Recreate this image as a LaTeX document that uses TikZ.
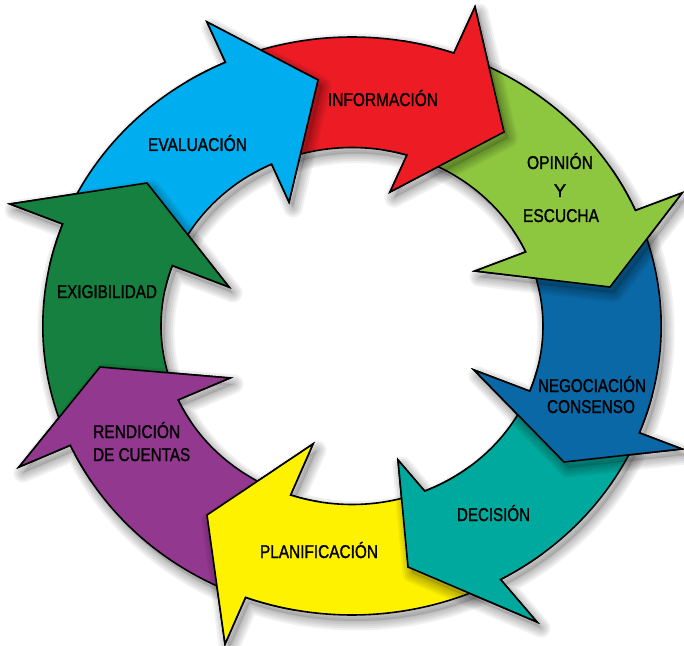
\documentclass[tikz,border=0pt]{standalone}
\usepackage{fontspec}
\setmainfont{Liberation Sans}
\newfontfamily\lblfont[FakeBold=1.4]{Liberation Sans}
\usepackage{graphicx}
\definecolor{cRed}{HTML}{ED1C24}
\definecolor{cBlue}{HTML}{00AEEF}
\definecolor{cLGreen}{HTML}{8DC63F}
\definecolor{cDBlue}{HTML}{0A68A6}
\definecolor{cTeal}{HTML}{00A99D}
\definecolor{cYellow}{HTML}{FFF200}
\definecolor{cPurple}{HTML}{92388F}
\definecolor{cDGreen}{HTML}{15803F}
% arrow outlines (centre of ring at origin, outer ellipse 309.2 x 289, inner 191 x 178.5)
\def\pRed{(111.2:309.2 and 289) arc[start angle=111.2, end angle=70.77, x radius=309.2, y radius=289] -- (123,319) -- (152,194) -- (38,134) -- (73.27:191 and 178.5) arc[start angle=73.27, end angle=111.9, x radius=191, y radius=178.5] -- cycle}
\def\pLGreen{(67.8:309.2 and 289) arc[start angle=67.8, end angle=23.56, x radius=309.2, y radius=289] -- (330,133) -- (258,39) -- (123,55) -- (24.53:191 and 178.5) arc[start angle=24.53, end angle=70.3, x radius=191, y radius=178.5] -- cycle}
\def\pDBlue{(20.6:309.2 and 289) arc[start angle=20.6, end angle=-21.69, x radius=309.2, y radius=289] -- (330,-123) -- (212,-136) -- (122,-44) -- (-21.42:191 and 178.5) arc[start angle=-21.42, end angle=21.5, x radius=191, y radius=178.5] -- cycle}
\def\pTeal{(-24.7:309.2 and 289) arc[start angle=-24.7, end angle=-61.29, x radius=309.2, y radius=289] -- (185,-296) -- (56,-241) -- (46,-134) -- (-67.64:191 and 178.5) arc[start angle=-67.64, end angle=-24.4, x radius=191, y radius=178.5] -- cycle}
\def\pYellow{(-64.3:309.2 and 289) arc[start angle=-64.3, end angle=-110.14, x radius=309.2, y radius=289] -- (-127,-318) -- (-145,-189) -- (-39,-118) -- (-108.76:191 and 178.5) arc[start angle=-108.76, end angle=-70.6, x radius=191, y radius=178.5] -- cycle}
\def\pPurple{(-113.1:309.2 and 289) arc[start angle=-113.1, end angle=-155.62, x radius=309.2, y radius=289] -- (-333,-141) -- (-252,-41) -- (-122,-52) -- (-155.55:191 and 178.5) arc[start angle=-155.55, end angle=-111.8, x radius=191, y radius=178.5] -- cycle}
\def\pDGreen{(201.4:309.2 and 289) arc[start angle=201.4, end angle=159.33, x radius=309.2, y radius=289] -- (-342,122) -- (-205,143) -- (-123,39) -- (160.2:191 and 178.5) arc[start angle=160.2, end angle=201.45, x radius=191, y radius=178.5] -- cycle}
\def\pBlue{(156.3:309.2 and 289) arc[start angle=156.3, end angle=114.16, x radius=309.2, y radius=289] -- (-145,304) -- (-34,246) -- (-63,124) -- (114.89:191 and 178.5) arc[start angle=114.89, end angle=157.2, x radius=191, y radius=178.5] -- cycle}
% wedges round each arrow head
\def\wRed{(0,0) -- (35:700) -- (58:700) -- (80:700) -- cycle}
\def\wLGreen{(0,0) -- (-8:700) -- (12:700) -- (31:700) -- cycle}
\def\wDBlue{(0,0) -- (-49:700) -- (-30:700) -- (-13:700) -- cycle}
\def\wTeal{(0,0) -- (-93:700) -- (-72:700) -- (-50:700) -- cycle}
\def\wYellow{(0,0) -- (-143:700) -- (-122:700) -- (-101:700) -- cycle}
\def\wPurple{(0,0) -- (-186:700) -- (-168:700) -- (-149:700) -- cycle}
\def\wDGreen{(0,0) -- (129:700) -- (149:700) -- (169:700) -- cycle}
\def\wBlue{(0,0) -- (82:700) -- (103:700) -- (124:700) -- cycle}
\newcommand\myshade[1]{%
  \begin{scope}[shift={(4,-6)}]
    \path[fill=black, fill opacity=0.12] #1;
    \foreach \w in {3,7,11,15,19} {\path[draw=black, draw opacity=0.055, line width=\w pt, line join=round] #1;}
  \end{scope}}
\newcommand\myarrow[2]{\path[arrowline, fill=#2] #1;}
\newcommand\headover[4]{% #1 path of earlier arrow, #2 its colour, #3 its wedge, #4 path of later arrow
  \begin{scope}\clip #4; \myshade{#1}\end{scope}
  \begin{scope}\clip #3; \myarrow{#1}{#2}\end{scope}}
\begin{document}
\begin{tikzpicture}[x=1pt, y=1pt,
  arrowline/.style={draw=black, line width=1.6pt, line join=miter, miter limit=25},
  lbl/.style={inner sep=0pt, font=\lblfont\fontsize{18.5}{20}\selectfont, text=black}]
\useasboundingbox (-352,-319) rectangle (332,326);
\fill[white] (-352,-319) rectangle (332,326);
% shadows on the paper
\myshade{\pRed}\myshade{\pLGreen}\myshade{\pDBlue}\myshade{\pTeal}
\myshade{\pYellow}\myshade{\pPurple}\myshade{\pDGreen}\myshade{\pBlue}
% arrows, each head lying over the tail of the next
\myarrow{\pRed}{cRed}
\myarrow{\pLGreen}{cLGreen}
\headover{\pRed}{cRed}{\wRed}{\pLGreen}
\myarrow{\pDBlue}{cDBlue}
\headover{\pLGreen}{cLGreen}{\wLGreen}{\pDBlue}
\myarrow{\pTeal}{cTeal}
\headover{\pDBlue}{cDBlue}{\wDBlue}{\pTeal}
\myarrow{\pYellow}{cYellow}
\headover{\pTeal}{cTeal}{\wTeal}{\pYellow}
\myarrow{\pPurple}{cPurple}
\headover{\pYellow}{cYellow}{\wYellow}{\pPurple}
\myarrow{\pDGreen}{cDGreen}
\headover{\pPurple}{cPurple}{\wPurple}{\pDGreen}
\myarrow{\pBlue}{cBlue}
\headover{\pDGreen}{cDGreen}{\wDGreen}{\pBlue}
\headover{\pBlue}{cBlue}{\wBlue}{\pRed}
% labels
\node[lbl, anchor=base] (tInfo) at (31,220) {\resizebox{110pt}{\height}{INFORMACIÓN}};
\node[lbl, anchor=base] (tEval) at (-154.5,175) {\resizebox{99pt}{\height}{EVALUACIÓN}};
\node[lbl, anchor=base] (tOpin) at (208,157) {\resizebox{66pt}{\height}{OPINIÓN}};
\node[lbl, anchor=base] (tY) at (208,129) {Y};
\node[lbl, anchor=base] (tEsc) at (209,104) {\resizebox{76pt}{\height}{ESCUCHA}};
\node[lbl, anchor=base] (tNeg) at (240,-66) {\resizebox{108pt}{\height}{NEGOCIACIÓN}};
\node[lbl, anchor=base] (tCons) at (239,-87) {\resizebox{88pt}{\height}{CONSENSO}};
\node[lbl, anchor=base] (tDec) at (141.5,-195) {\resizebox{73pt}{\height}{DECISIÓN}};
\node[lbl, anchor=base] (tPlan) at (-33,-232) {\resizebox{118pt}{\height}{PLANIFICACIÓN}};
\node[lbl, anchor=base west] (tRend) at (-259,-112) {\resizebox{87pt}{\height}{RENDICIÓN}};
\node[lbl, anchor=base west] (tCuen) at (-259,-135) {\resizebox{97pt}{\height}{DE CUENTAS}};
\node[lbl, anchor=base] (tExig) at (-245,28) {\resizebox{100pt}{\height}{EXIGIBILIDAD}};
\end{tikzpicture}
\end{document}
